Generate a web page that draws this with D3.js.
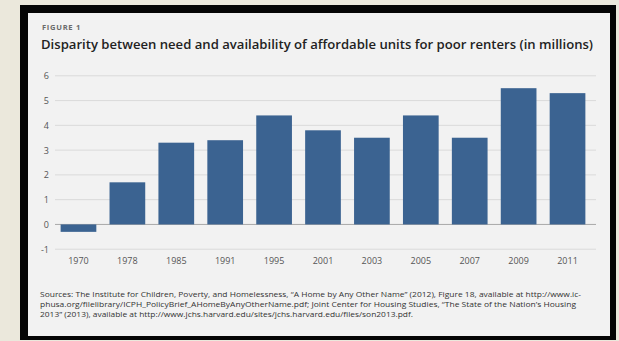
<!DOCTYPE html>
<html>
<head>
<meta charset="utf-8">
<script src="https://cdn.jsdelivr.net/npm/d3@7"></script>
<style>
  html, body { margin: 0; padding: 0; background: #ebe8dc; }
  svg { display: block; }
</style>
</head>
<body>
<svg id="chart" width="619" height="341"></svg>
<script>
const years = ["1970","1978","1985","1991","1995","2001","2003","2005","2007","2009","2011"];
const values = [-0.3, 1.7, 3.3, 3.4, 4.4, 3.8, 3.5, 4.4, 3.5, 5.5, 5.3];
const yTicks = [-1, 0, 1, 2, 3, 4, 5, 6];
const figureLabel = "FIGURE 1";
const title = "Disparity between need and availability of affordable units for poor renters (in millions)";
const sourceLines = [
  "Sources: The Institute for Children, Poverty, and Homelessness, \u201CA Home by Any Other Name\u201D (2012), Figure 18, available at http://www.ic-",
  "phusa.org/filelibrary/ICPH_PolicyBrief_AHomeByAnyOtherName.pdf; Joint Center for Housing Studies, \u201CThe State of the Nation\u2019s Housing",
  "2013\u201D (2013), available at http://www.jchs.harvard.edu/sites/jchs.harvard.edu/files/son2013.pdf."
];
const sourceWidths = [541, 536, 373];

const svg = d3.select("#chart");
const font = "'Open Sans', 'DejaVu Sans', sans-serif";

// frame
svg.append("rect").attr("x", 20).attr("y", 5).attr("width", 596).attr("height", 335).attr("fill", "#050505");
svg.append("rect").attr("x", 28).attr("y", 13).attr("width", 582).attr("height", 323).attr("fill", "#f2f2f2");

// header
svg.append("text").attr("x", 42).attr("y", 30)
  .attr("font-family", font).attr("font-size", 6.5).attr("font-weight", 700)
  .attr("fill", "#6a6a6a").attr("letter-spacing", 0.6)
  .attr("textLength", 39).attr("lengthAdjust", "spacingAndGlyphs")
  .text(figureLabel);
svg.append("text").attr("x", 41).attr("y", 48.5)
  .attr("font-family", font).attr("font-size", 12).attr("font-weight", 600)
  .attr("fill", "#222")
  .attr("textLength", 552).attr("lengthAdjust", "spacingAndGlyphs")
  .text(title);

// scales
const y = d3.scaleLinear().domain([-1, 6]).range([249.2, 75.8]);
const x = d3.scaleBand().domain(years).range([55, 591]).paddingInner(0.27).paddingOuter(0.115);

// gridlines
svg.append("g").selectAll("line").data(yTicks).join("line")
  .attr("x1", 55).attr("x2", 596)
  .attr("y1", d => y(d)).attr("y2", d => y(d))
  .attr("stroke", d => d === 0 ? "#a8a8a8" : "#dadada")
  .attr("stroke-width", 1);

// y axis labels
const yAxis = d3.axisLeft(y).tickValues(yTicks).tickSize(0).tickPadding(0).tickFormat(d3.format("d"));
const gy = svg.append("g").attr("transform", "translate(49,0)").call(yAxis);
gy.select(".domain").remove();
gy.selectAll("text").attr("font-family", font).attr("font-size", 9).attr("fill", "#555")
  .text(d => d < 0 ? "-" + Math.abs(d) : d);

// bars
svg.append("g").selectAll("rect").data(values).join("rect")
  .attr("x", (d, i) => x(years[i]))
  .attr("width", x.bandwidth())
  .attr("y", d => y(Math.max(0, d)))
  .attr("height", d => Math.abs(y(d) - y(0)))
  .attr("fill", "#3b6391");

// x axis labels
const xAxis = d3.axisBottom(x).tickSize(0).tickPadding(0);
const gx = svg.append("g").attr("transform", "translate(0,258)").call(xAxis);
gx.select(".domain").remove();
gx.selectAll("text").attr("font-family", font).attr("font-size", 9).attr("fill", "#555");

// sources
svg.append("g").selectAll("text").data(sourceLines).join("text")
  .attr("x", 40).attr("y", (d, i) => 297 + i * 10)
  .attr("font-family", font).attr("font-size", 6.6).attr("fill", "#333")
  .attr("textLength", (d, i) => sourceWidths[i]).attr("lengthAdjust", "spacingAndGlyphs")
  .text(d => d);
</script>
</body>
</html>
